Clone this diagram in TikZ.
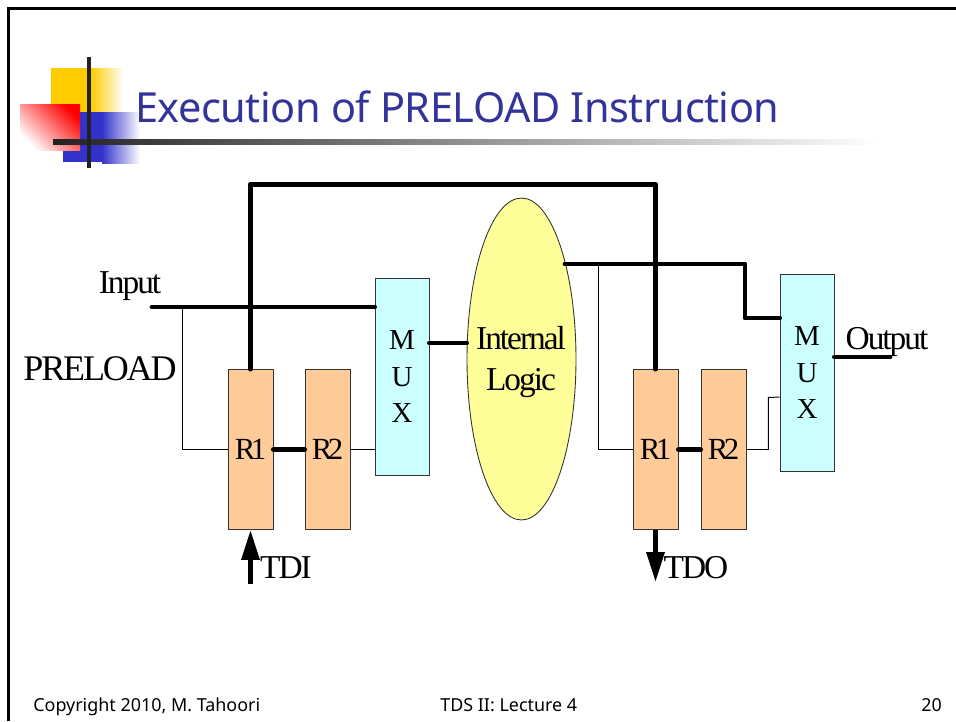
\documentclass[tikz,border=0pt]{standalone}
\usepackage{fontspec}
\setmainfont{Liberation Serif}
\newfontfamily\slidefont{Noto Sans}
\usetikzlibrary{shapes.geometric,arrows.meta}

\tikzset{
    boxreg/.style={draw=black!80,fill=regcolor,line width=0.5pt,inner sep=0pt,
        minimum width=0.9cm,minimum height=3.2cm},
    boxmux/.style={draw=black!80,fill=muxcolor,line width=0.5pt,inner sep=0pt,
        minimum width=1.08cm,minimum height=3.94cm,align=center,font=\fontsize{16.5}{20.7}\selectfont},
    thick wire/.style={line width=2.8pt,line cap=round,line join=round},
    thin wire/.style={line width=0.55pt},
    diagtext/.style={font=\fontsize{19}{23.5}\selectfont\addfontfeature{LetterSpace=-6},inner sep=0pt},
    reglabel/.style={font=\fontsize{17.5}{20}\selectfont\addfontfeature{LetterSpace=-15},inner sep=0pt},
    foot/.style={font=\slidefont\fontsize{10.2}{12}\selectfont,inner sep=0pt,anchor=base west},
    bighead/.style={-{Triangle[length=0.6cm,width=0.35cm,sep=0pt]}}
}
\definecolor{regcolor}{HTML}{FFCC99}
\definecolor{muxcolor}{HTML}{CCFFFF}
\definecolor{logiccolor}{HTML}{FFFF99}
\definecolor{titlecolor}{HTML}{333399}
\definecolor{logoyellow}{HTML}{FFCC00}
\definecolor{logoblue}{HTML}{3333CC}
\definecolor{logobar}{HTML}{222222}

\begin{document}
\begin{tikzpicture}[x=0.02cm,y=-0.02cm]
    \useasboundingbox (0,0) rectangle (956,721);

    % slide frame
    \draw[line width=1.7pt] (8.7,721) -- (8.7,8.7) -- (956,8.7);

    % logo
    \fill[logoyellow] (51,68) rectangle (91,112);
    \shade[left color=logoyellow,right color=white] (91,68) rectangle (123,112);
    \fill[logoblue] (63,112) rectangle (102,162);
    \shade[left color=logoblue,right color=white] (102,112) rectangle (140,163);
    \shade[top color=red,bottom color=white,shading angle=-45] (20,104) rectangle (80,150);
    \shade[left color=logobar,right color=white] (53,139) rectangle (880,144);
    \fill[logobar] (87,57) rectangle (91,168);

    \node[anchor=base west,inner sep=0pt,text=titlecolor,
        font=\slidefont\fontsize{23.6}{28}\selectfont\addfontfeature{LetterSpace=-1.2}]
        (title) at (135,122) {Execution of PRELOAD Instruction};

    % left side
    \node[boxreg] (r1a) at (250.5,449.5) {};
    \node[boxreg] (r2a) at (327.5,449.5) {};
    \node[boxmux] (muxa) at (402,376.5) {M\\U\\X};
    \node[draw=black!80,fill=logiccolor,ellipse,line width=0.5pt,inner sep=0pt,
        minimum width=2.18cm,minimum height=6.44cm] (logic) at (521.5,359) {};

    % right side
    \node[boxreg] (r1b) at (655.5,449.5) {};
    \node[boxreg] (r2b) at (723.5,449.5) {};
    \node[boxmux] (muxb) at (807,372.5) {M\\U\\X};

    % labels
    \node[reglabel] (reglabela) at (250.5,449.5) {R1};
    \node[reglabel] (reglabelb) at (327.5,449.5) {R2};
    \node[reglabel] (reglabelc) at (655.5,449.5) {R1};
    \node[reglabel] (reglabeld) at (723.5,449.5) {R2};
    \node[diagtext,align=center] (logiclabel) at (521,362) {Internal\\Logic};
    \node[diagtext] (inputlabel) at (130,286) {Input};
    \node[diagtext,font=\fontsize{20.5}{24}\selectfont\addfontfeature{LetterSpace=-6}] (preloadlabel) at (100,369) {PRELOAD};
    \node[diagtext] (outputlabel) at (887,342) {Output};
    \node[diagtext] (tdilabel) at (286,568) {TDI};
    \node[diagtext] (tdolabel) at (696,568) {TDO};

    % footer
    \node[foot] (footleft) at (33,711) {Copyright 2010, M. Tahoori};
    \node[foot] (footmid) at (440,711) {TDS II: Lecture 4};
    \node[foot] (footpage) at (921,711) {20};

    \coordinate (inputstart) at (152,307);
    \coordinate (inputtap) at (182,307);
    \coordinate (logicout) at (565,264);
    \coordinate (logictap) at (598,264);
    \coordinate (outputend) at (890,357);
    \coordinate (tdistart) at (250.5,584);
    \coordinate (tdoend) at (655.5,582);

    % Connect the scan path
    \draw[thick wire] (r1a.north) -- ++(0,-185) -| (r1b.north);
    \draw[thick wire] (inputstart) -- (inputstart -| muxa.west);
    \draw[thin wire] (inputtap) |- (r1a.west);
    \draw[thick wire] (r1a.east) -- (r2a.west);
    \draw[thin wire] (r2a.east) -- (muxa.west |- r2a.east);
    \draw[thick wire] (muxa.east |- 0,343) -- (logic.west |- 0,343);

    \draw[thick wire] (logicout) -- ++(180,0) -- ++(0,54) -- (muxb.west |- 0,318);
    \draw[thin wire] (logictap) |- (r1b.west);
    \draw[thick wire] (r1b.east) -- (r2b.west);
    \draw[thin wire] (r2b.east) -- ++(22,0) -- ++(0,-52) -- (muxb.west |- 0,397);
    \draw[thick wire] (muxb.east |- outputend) -- (outputend);

    \draw[line width=2.8pt,bighead] (tdistart) -- (r1a.south);
    \draw[line width=2.8pt,bighead] (r1b.south) -- (tdoend);
\end{tikzpicture}
\end{document}
